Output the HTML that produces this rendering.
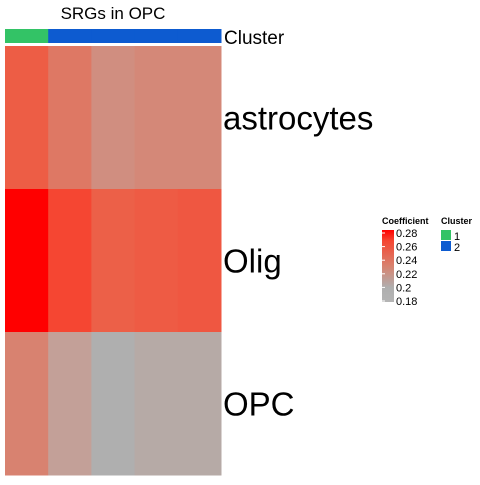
<!DOCTYPE html>
<html><head><meta charset="utf-8"><style>
body{margin:0;background:#fff;font-family:"Liberation Sans",Arial,sans-serif}
</style></head><body>
<svg id="chart" width="480" height="480" xmlns="http://www.w3.org/2000/svg" font-family="Liberation Sans, Arial, sans-serif">
<text x="113" y="19" font-size="17" text-anchor="middle">SRGs in OPC</text>
<g id="cells"></g>
<g id="clusters"></g>
<text x="224" y="44" font-size="19">Cluster</text>
<g id="rowlabels"></g>
<g>
<text x="382" y="224" font-size="9" font-weight="bold">Coefficient</text>
<defs><linearGradient id="grad" x1="0" y1="1" x2="0" y2="0">
<stop offset="0" stop-color="#b4b4b4"/><stop offset="0.2" stop-color="#afafaf"/><stop offset="0.5" stop-color="#d8826f"/><stop offset="0.85" stop-color="#f54632"/><stop offset="1" stop-color="#ff0000"/></linearGradient></defs>
<rect x="382" y="230" width="12" height="72" fill="url(#grad)"/>
<g id="ticks"></g>
<text x="441" y="224" font-size="9" font-weight="bold">Cluster</text>
<rect x="441" y="230" width="10" height="10" fill="#33c366"/>
<text x="454" y="240" font-size="11">1</text>
<rect x="441" y="241" width="10" height="10" fill="#0d5bd0"/>
<text x="454" y="251" font-size="11">2</text>
</g>
</svg>
<script>
const rows=["astrocytes","Olig","OPC"];
const clusters=[1,2,2,2,2];
const astroVals=[0.252,0.236,0.222,0.226,0.226];
const oligVals=[0.28,0.265,0.25,0.253,0.255];
const opcVals=[0.23,0.21,0.19,0.2,0.2];
const tickVals=[0.28,0.26,0.24,0.22,0.2,0.18];
const tickLabels=["0.28","0.26","0.24","0.22","0.2","0.18"];
const values=[astroVals,oligVals,opcVals];
const ns="http://www.w3.org/2000/svg";
const x0=5,x1=221,y0=46,y1=475;
const cw=(x1-x0)/clusters.length, rh=(y1-y0)/rows.length;
const stopV=[0.18,0.19,0.2,0.21,0.23,0.25,0.265,0.28];
const stopC=[[180,180,180],[175,175,175],[182,170,166],[195,160,152],[216,130,112],[236,96,72],[245,70,50],[255,0,0]];
function color(v){
 v=Math.max(0.18,Math.min(0.28,v));
 let k=0;while(k<stopV.length-2&&v>stopV[k+1])k++;
 const t=(v-stopV[k])/(stopV[k+1]-stopV[k]);
 const c=stopC[k].map((a,i)=>Math.round(a+(stopC[k+1][i]-a)*t));
 return `rgb(${c[0]},${c[1]},${c[2]})`;
}
function yScale(v){return 233+(0.28-v)/0.1*68;}
const cells=document.getElementById('cells');
values.forEach((r,i)=>r.forEach((v,j)=>{
 const el=document.createElementNS(ns,'rect');
 
 
 el.setAttribute('x',x0+j*cw);el.setAttribute('y',y0+i*rh);
 el.setAttribute('width',cw+0.5);el.setAttribute('height',rh+0.5);
 el.setAttribute('fill',color(v));cells.appendChild(el);
}));
const cg=document.getElementById('clusters');
clusters.forEach((c,j)=>{
 const el=document.createElementNS(ns,'rect');
 
 
 el.setAttribute('x',x0+j*cw);el.setAttribute('y',29);
 el.setAttribute('width',cw+0.5);el.setAttribute('height',14);
 el.setAttribute('fill',c===1?'#33c366':'#0d5bd0');cg.appendChild(el);
});
const rl=document.getElementById('rowlabels');
rows.forEach((r,i)=>{
 const el=document.createElementNS(ns,'text');
 
 
 el.setAttribute('x',223);el.setAttribute('y',y0+(i+0.5)*rh+12);
 el.setAttribute('font-size','33');el.textContent=r;rl.appendChild(el);
});
const tg=document.getElementById('ticks');
tickVals.forEach((v,i)=>{
 const y=yScale(v);
 const l=document.createElementNS(ns,'line');
 
 
 l.setAttribute('x1',382);l.setAttribute('x2',385);l.setAttribute('y1',y);l.setAttribute('y2',y);
 l.setAttribute('stroke','#fff');tg.appendChild(l);
 const t=document.createElementNS(ns,'text');
 
 
 t.setAttribute('x',396);t.setAttribute('y',y+4);t.setAttribute('font-size','11');
 t.textContent=tickLabels[i];tg.appendChild(t);
});
</script>
</body></html>
